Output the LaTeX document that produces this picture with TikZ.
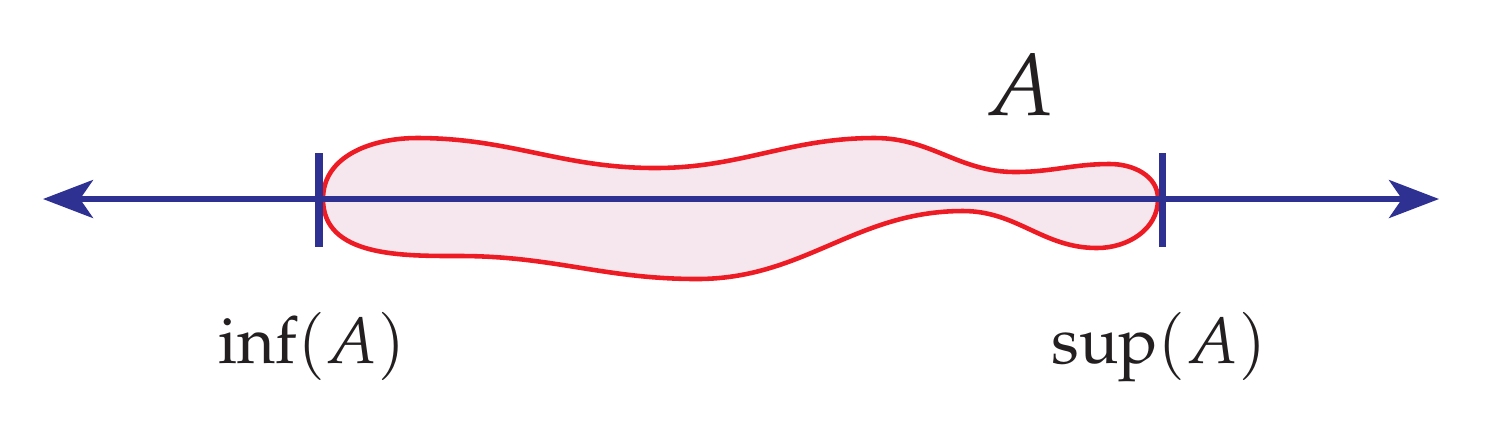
\documentclass[tikz,border=0pt]{standalone}
\usepackage[T1]{fontenc}
\usepackage{mathpazo}
\usetikzlibrary{arrows.meta}
\definecolor{axisblue}{RGB}{46,49,146}
\definecolor{blobred}{RGB}{237,28,36}
\definecolor{blobfill}{RGB}{245,231,237}
\definecolor{textblack}{RGB}{35,31,32}
\tikzset{
  axisline/.style={draw=axisblue, line width=1.45pt,
    {Stealth[length=0.5cm,width=0.38cm,inset=0.13cm]}-{Stealth[length=0.5cm,width=0.38cm,inset=0.13cm]}},
  tickline/.style={draw=axisblue, line width=2pt},
  blob/.style={draw=blobred, fill=blobfill, line width=1.3pt},
  lbl/.style={inner sep=0pt, anchor=base, text=textblack, font=\fontsize{18.6}{22}\selectfont},
  biglbl/.style={inner sep=0pt, anchor=base, text=textblack, font=\fontsize{25}{30}\selectfont}
}
\begin{document}
\begin{tikzpicture}[x=0.01cm,y=-0.01cm]
\useasboundingbox (0,0) rectangle (1485,423);
% the set A
\path[blob] (323,199)
  to[out=90,in=180] (417,138)
  to[out=0,in=180] (655,168)
  to[out=0,in=180] (875,138)
  to[out=0,in=180] (1015,172)
  to[out=0,in=180] (1110,164)
  to[out=0,in=90] (1158,199)
  to[out=-90,in=0] (1097,248)
  to[out=180,in=0] (963,211)
  to[out=180,in=0] (697,279)
  to[out=180,in=0] (460,256)
  to[out=180,in=-90] (323,199) -- cycle;
% axis
\coordinate (L) at (43,199);
\coordinate (R) at (1439,199);
\path[axisline] (L) -- (R);
% ticks
\coordinate (infT) at (319,153);
\coordinate (infB) at (319,247);
\coordinate (supT) at (1162,153);
\coordinate (supB) at (1162,247);
\path[tickline] (infT) -- (infB);
\path[tickline] (supT) -- (supB);
% labels
\node[biglbl] (labA) at (1020,115) {$A$};
\node[lbl] (labinf) at (312,363) {$\inf(A)$};
\node[lbl] (labsup) at (1159,363) {$\sup(A)$};
\end{tikzpicture}
\end{document}
